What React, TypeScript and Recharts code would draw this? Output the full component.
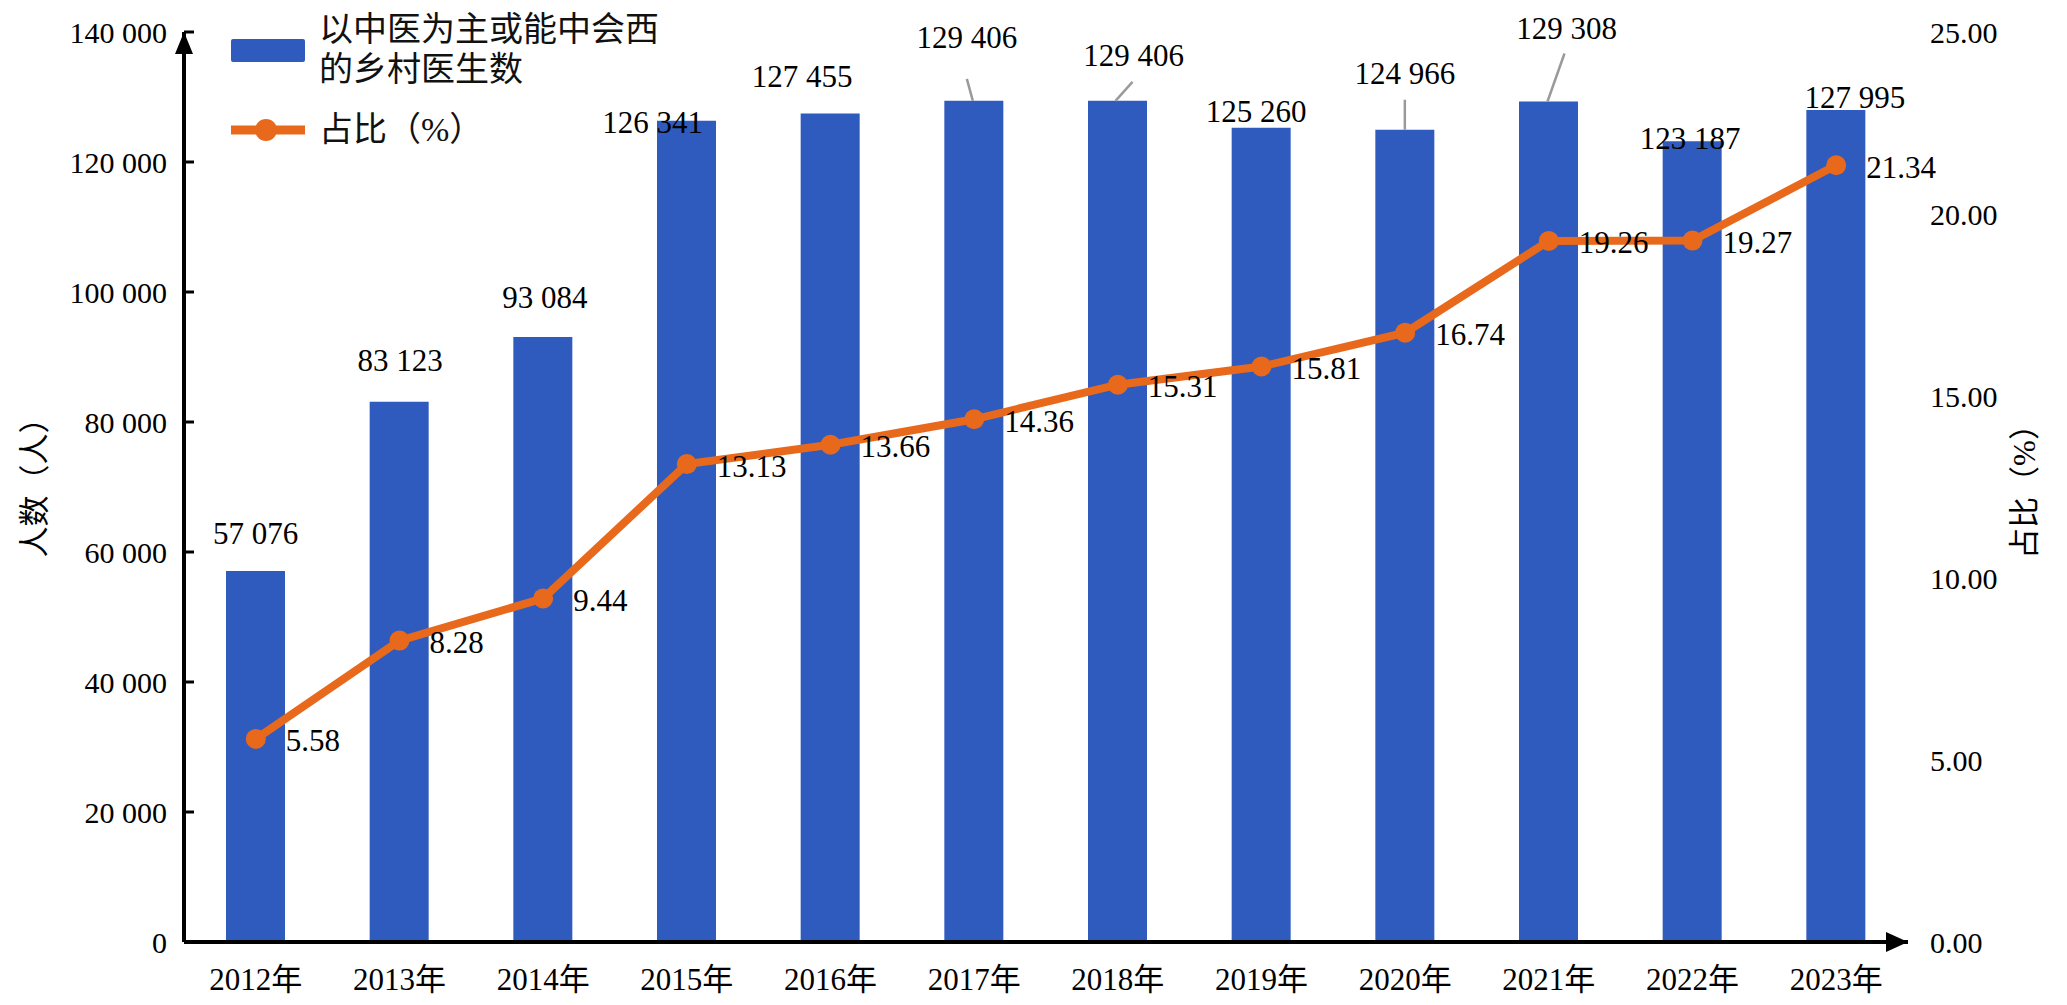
import {
    ComposedChart,
    Bar,
    Line,
    XAxis,
    YAxis,
    LabelList,
} from 'recharts';

// 数据
const years = ['2012年', '2013年', '2014年', '2015年', '2016年', '2017年', '2018年', '2019年', '2020年', '2021年', '2022年', '2023年'];
const doctorCounts = [57076, 83123, 93084, 126341, 127455, 129406, 129406, 125260, 124966, 129308, 123187, 127995];
const shares = [5.58, 8.28, 9.44, 13.13, 13.66, 14.36, 15.31, 15.81, 16.74, 19.26, 19.27, 21.34];
const leftTicks = [0, 20000, 40000, 60000, 80000, 100000, 120000, 140000];
const rightTicks = [0, 5, 10, 15, 20, 25];

const BAR_NAME = '以中医为主或能中会西的乡村医生数';
const LINE_NAME = '占比（%）';

// 样式
const W = 2067;
const H = 1005;
const PLOT = {left: 184, top: 32, right: 1908, bottom: 942};
const X_AXIS_H = 30;
const BLUE = '#2E5BBD';
const ORANGE = '#E8691C';
const FONT = '"Liberation Serif", "Times New Roman", "Noto Sans CJK SC", serif';

// 柱顶标签的手动偏移（相对柱顶中心）
const barLabelOffsets: [number, number][] = [
    [0, -38], [1, -41], [2, -39], [-34, 2], [-28, -37], [-7, -63],
    [16, -45], [-5, -16], [0, -56], [18, -73], [-2, -3], [19, -13],
];
// 引导线 [x1, y1, x2, y2]
const leaderLines: Record<number, [number, number, number, number]> = {
    5: [-7, -22, -1, 0],
    6: [15, -19, -2, 0],
    8: [0, -30, 0, 0],
    9: [16, -48, -1, 0],
};

const fmtThousands = (v: number) => String(v).replace(/\B(?=(\d{3})+(?!\d))/g, ' ');

const BarValueLabel = (props: any) => {
    const {x, y, width, value, index} = props;
    const cx = Number(x) + Number(width) / 2;
    const top = Number(y);
    const [dx, dy] = barLabelOffsets[index] ?? [0, -38];
    const leader = leaderLines[index];
    return (
        <g>
            {leader && (
                <line
                    x1={cx + leader[0]} y1={top + leader[1]}
                    x2={cx + leader[2]} y2={top + leader[3]}
                    stroke="#9a9a9a" strokeWidth={2.5}
                />
            )}
            <text x={cx + dx} y={top + dy} textAnchor="middle" dominantBaseline="central"
                  fontSize={31} fontFamily={FONT} fill="#000">
                {fmtThousands(Number(value))}
            </text>
        </g>
    );
};

const ShareLabel = (props: any) => {
    const {x, y, value} = props;
    return (
        <text x={Number(x) + 30} y={Number(y) + 2} textAnchor="start" dominantBaseline="central"
              fontSize={31} fontFamily={FONT} fill="#000">
            {Number(value).toFixed(2)}
        </text>
    );
};

const ChartLegend = () => (
    <div style={{
        position: 'absolute', left: 231, top: 10, width: 480,
        fontFamily: FONT, fontSize: 34, lineHeight: '40px', color: '#111',
    }}>
        <div style={{display: 'flex', alignItems: 'center', height: 80}}>
            <div style={{width: 74, height: 23, background: BLUE, borderRadius: 2, flex: 'none'}}/>
            <div style={{marginLeft: 14, width: 352}}>{BAR_NAME}</div>
        </div>
        <div style={{display: 'flex', alignItems: 'center', height: 40, marginTop: 20}}>
            <svg width={74} height={24} style={{flex: 'none'}}>
                <line x1={0} y1={12} x2={74} y2={12} stroke={ORANGE} strokeWidth={9}/>
                <circle cx={35} cy={12} r={11} fill={ORANGE}/>
            </svg>
            <div style={{marginLeft: 14}}>{LINE_NAME}</div>
        </div>
    </div>
);

const App = () => {
    const data = years.map((year, i) => ({
        year,
        count: doctorCounts[i],
        share: shares[i],
    }));

    const leftWidth = 130;
    const rightWidth = 120;

    return (
        <div style={{position: 'absolute', left: 0, top: 0, width: W, height: H, background: '#fff'}}>
            <ComposedChart
                width={W}
                height={H}
                data={data}
                margin={{
                    top: PLOT.top,
                    bottom: H - PLOT.bottom - X_AXIS_H,
                    left: PLOT.left - leftWidth,
                    right: W - PLOT.right - rightWidth,
                }}
            >
                <XAxis
                    dataKey="year"
                    height={X_AXIS_H}
                    interval={0}
                    tickLine={false}
                    tickSize={0}
                    tickMargin={26}
                    axisLine={{stroke: '#000', strokeWidth: 4}}
                    tick={{fontSize: 31, fontFamily: FONT, fill: '#000'}}
                />
                <YAxis
                    yAxisId="left"
                    width={leftWidth}
                    domain={[0, 140000]}
                    ticks={leftTicks}
                    tickFormatter={fmtThousands}
                    tickSize={-10}
                    tickMargin={27}
                    tickLine={{stroke: '#000', strokeWidth: 3}}
                    axisLine={{stroke: '#000', strokeWidth: 4}}
                    tick={{fontSize: 30, fontFamily: FONT, fill: '#000'}}
                    label={{
                        value: '人数（人）',
                        angle: -90,
                        position: 'insideLeft',
                        offset: 0,
                        dx: -20,
                        dy: -7,
                        style: {fontSize: 31, fontFamily: FONT, fill: '#000', textAnchor: 'middle'},
                    }}
                />
                <YAxis
                    yAxisId="right"
                    orientation="right"
                    width={rightWidth}
                    domain={[0, 25]}
                    ticks={rightTicks}
                    tickFormatter={(v: number) => v.toFixed(2)}
                    tickSize={0}
                    tickMargin={22}
                    tickLine={false}
                    axisLine={false}
                    tick={{fontSize: 30, fontFamily: FONT, fill: '#000'}}
                    label={{
                        value: LINE_NAME,
                        angle: -90,
                        position: 'insideRight',
                        offset: 0,
                        dx: -4,
                        dy: -3,
                        style: {fontSize: 31, fontFamily: FONT, fill: '#000', textAnchor: 'middle'},
                    }}
                />
                <Bar
                    yAxisId="left"
                    dataKey="count"
                    name={BAR_NAME}
                    fill={BLUE}
                    barSize={59}
                    isAnimationActive={false}
                >
                    <LabelList dataKey="count" content={<BarValueLabel/>}/>
                </Bar>
                <Line
                    yAxisId="right"
                    dataKey="share"
                    name={LINE_NAME}
                    stroke={ORANGE}
                    strokeWidth={8}
                    dot={{r: 10, fill: ORANGE, stroke: 'none'}}
                    activeDot={false}
                    isAnimationActive={false}
                >
                    <LabelList dataKey="share" content={<ShareLabel/>}/>
                </Line>
            </ComposedChart>
            <ChartLegend/>
            {/* 坐标轴箭头 */}
            <svg width={W} height={H} style={{position: 'absolute', left: 0, top: 0, pointerEvents: 'none'}}>
                <polygon
                    points={`${PLOT.left},${PLOT.top} ${PLOT.left - 9},${PLOT.top + 22} ${PLOT.left + 9},${PLOT.top + 22}`}
                    fill="#000"
                />
                <polygon
                    points={`${PLOT.right},${PLOT.bottom} ${PLOT.right - 22},${PLOT.bottom - 10} ${PLOT.right - 22},${PLOT.bottom + 10}`}
                    fill="#000"
                />
            </svg>
        </div>
    );
};

export default App;
